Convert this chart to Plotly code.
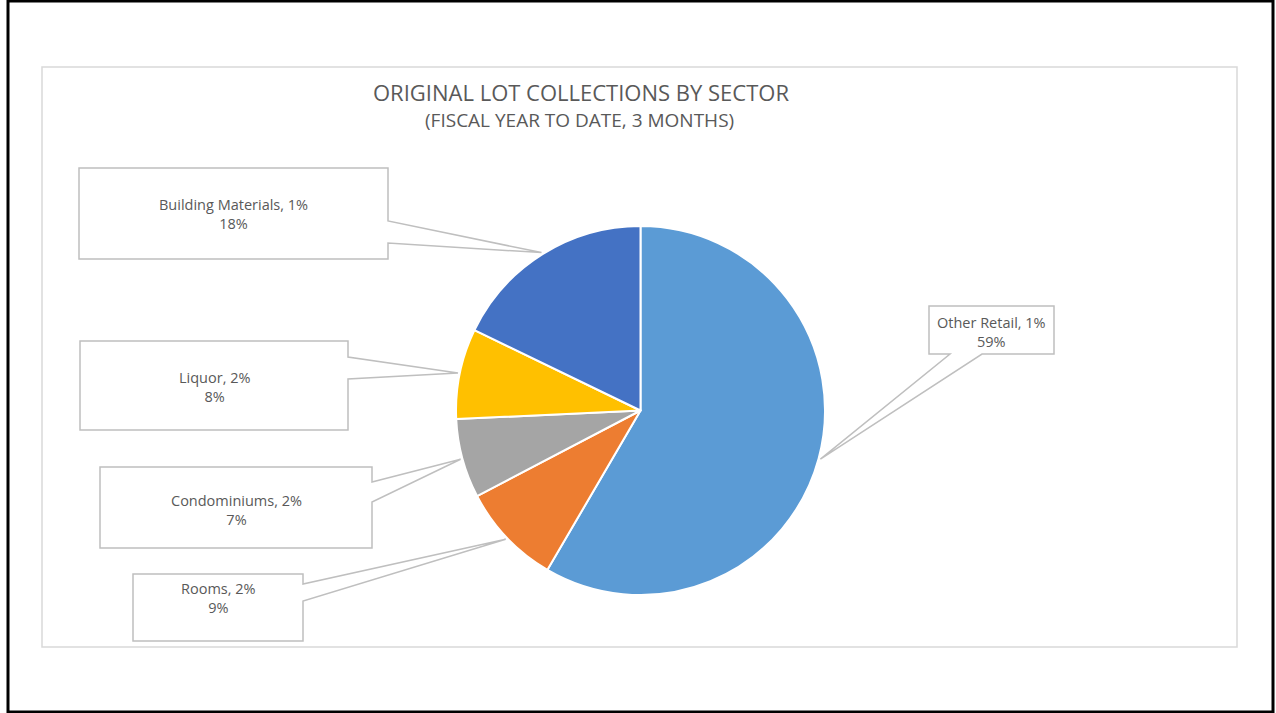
import math
import plotly.graph_objects as go

# ---- data ----
sectors = ["Other Retail", "Rooms", "Condominiums", "Liquor", "Building Materials"]
share_pct = [59, 9, 7, 8, 18]
secondary_pct = ["1%", "2%", "2%", "2%", "1%"]
colors = ["#5B9BD5", "#ED7D31", "#A5A5A5", "#FFC000", "#4472C4"]
title_text = "ORIGINAL LOT COLLECTIONS BY SECTOR"
subtitle_text = "(FISCAL YEAR TO DATE, 3 MONTHS)"

W, H = 1276, 713
CX, CY, R = 640.5, 410.5, 184.5

# callout boxes (layout): left, top, right, bottom, side of pointer, base1, base2, text centre y
boxes = {
    "Other Retail": (929, 306, 1054, 354, "bottom", 950, 982, 332),
    "Rooms": (133, 574, 303, 641, "right", 584, 601, 598),
    "Condominiums": (100, 467, 372, 548, "right", 482, 502, 510),
    "Liquor": (80, 341, 348, 430, "right", 357, 379, 387),
    "Building Materials": (79, 168, 388, 259, "right", 221, 243, 214),
}

fig = go.Figure()

fig.add_trace(go.Pie(
    labels=sectors, values=share_pct, sort=False, direction="clockwise",
    rotation=0, marker=dict(colors=colors, line=dict(color="white", width=2)),
    textinfo="none", hoverinfo="label+percent", showlegend=False,
    domain=dict(x=[(CX - R) / W, (CX + R) / W],
                y=[(H - CY - R) / H, (H - CY + R) / H]),
))

# invisible pixel-space axes for shapes/annotations
fig.add_trace(go.Scatter(x=[0, W], y=[0, H], mode="markers",
                         marker=dict(opacity=0), hoverinfo="skip", showlegend=False))

shapes = []
annotations = []
total = sum(share_pct)
cum = 0.0
font_color = "#595959"
for name, val, sec in zip(sectors, share_pct, secondary_pct):
    mid = (cum + val / 2) / total * 2 * math.pi
    cum += val
    tx = CX + 1.01 * R * math.sin(mid)
    ty = CY - 1.01 * R * math.cos(mid)
    l, t, r, b, side, b1, b2, ycen = boxes[name]
    if side == "right":
        path = (f"M {l},{t} L {r},{t} L {r},{b1} L {tx:.1f},{ty:.1f} "
                f"L {r},{b2} L {r},{b} L {l},{b} Z")
    else:
        path = (f"M {l},{t} L {r},{t} L {r},{b} L {b2},{b} L {tx:.1f},{ty:.1f} "
                f"L {b1},{b} L {l},{b} Z")
    shapes.append(dict(type="path", path=path, xref="x", yref="y",
                       line=dict(color="#BFBFBF", width=1.5),
                       fillcolor="white", layer="above"))
    annotations.append(dict(
        x=(l + r) / 2, y=ycen, xref="x", yref="y", showarrow=False,
        text=f"{name}, {sec}<br>{val}%", align="center",
        font=dict(family="Open Sans", size=14.5, color=font_color)))

# frames
shapes.append(dict(type="rect", x0=42, y0=67, x1=1237, y1=647, xref="x", yref="y",
                   line=dict(color="#D9D9D9", width=1.5), layer="below"))
shapes.append(dict(type="rect", x0=8, y0=1, x1=1273, y1=712, xref="x", yref="y",
                   line=dict(color="black", width=3), layer="above"))

annotations.append(dict(x=580.5, y=91.5, xref="x", yref="y", showarrow=False,
                        text=title_text,
                        font=dict(family="Open Sans", size=22, color=font_color)))
annotations.append(dict(x=579.5, y=120, xref="x", yref="y", showarrow=False,
                        text=subtitle_text,
                        font=dict(family="Open Sans", size=19, color=font_color)))

fig.update_layout(
    width=W, height=H, margin=dict(l=0, r=0, t=0, b=0),
    paper_bgcolor="white", plot_bgcolor="white",
    xaxis=dict(range=[0, W], visible=False, domain=[0, 1], fixedrange=True),
    yaxis=dict(range=[H, 0], visible=False, domain=[0, 1], fixedrange=True),
    shapes=shapes, annotations=annotations,
)

fig.write_html("out.html", config={"displayModeBar": False},
               post_script="document.body.style.margin='0';document.body.style.overflow='hidden';")
